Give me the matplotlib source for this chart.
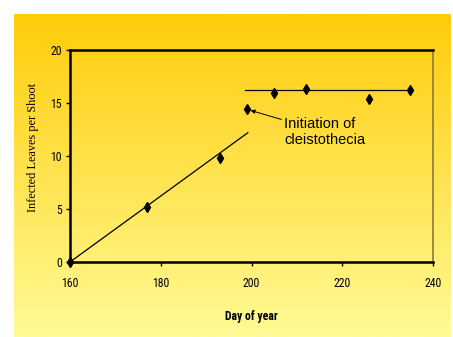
import matplotlib.pyplot as plt
import numpy as np

# data
day = [160, 177, 193, 199, 205, 212, 226, 235]
leaves = [0.0, 5.2, 9.8, 14.4, 15.9, 16.3, 15.4, 16.2]

# fitted lines
fit1_x = [160, 199.2]
fit1_y = [0.0, 12.2]
fit2_x = [198.5, 235]
fit2_y = [16.2, 16.2]

xticks = [160, 180, 200, 220, 240]
yticks = [0, 5, 10, 15, 20]

narrow = ['Liberation Sans Narrow', 'Roboto Condensed', 'DejaVu Sans']

fig = plt.figure(figsize=(4.53, 3.37), dpi=100)

# yellow gradient background
bg = fig.add_axes([14 / 453, 0, 436 / 453, 323 / 337])
grad = np.linspace(0, 1, 256).reshape(-1, 1)
top = np.array([255, 204, 10]) / 255
bot = np.array([255, 251, 150]) / 255
img = top + (bot - top) * grad[:, :, None]
bg.imshow(img, aspect='auto', extent=[0, 1, 0, 1])
bg.axis('off')

ax = fig.add_axes([70 / 453, 75 / 337, 363 / 453, 212 / 337])
ax.patch.set_alpha(0)

ax.plot(fit1_x, fit1_y, color='black', lw=0.9)
ax.plot(fit2_x, fit2_y, color='black', lw=0.9)
ax.plot(day, leaves, linestyle='none', marker='d', markersize=5.5,
        color='black', clip_on=False, zorder=5)

ax.annotate('Initiation of\ncleistothecia', xy=(199.8, 14.3), xytext=(207.2, 13.7),
            fontsize=10.5, family='Liberation Sans', va='top', ha='left',
            arrowprops=dict(arrowstyle='-|>', color='black', lw=0.7,
                            mutation_scale=6, shrinkA=0, shrinkB=0,
                            relpos=(-0.02, 0.9)))

ax.set_xlim(160, 240)
ax.set_ylim(0, 20)
ax.set_xticks(xticks)
ax.set_yticks(yticks)
ax.set_xticklabels([str(t) for t in xticks], family=narrow, fontstretch='condensed', fontsize=8.5)
ax.set_yticklabels([str(t) for t in yticks], family=narrow, fontstretch='condensed', fontsize=8.5)
ax.tick_params(direction='out', length=3, width=1, pad=8)
ax.tick_params(axis='y', pad=3)

for s in ['top', 'left', 'bottom']:
    ax.spines[s].set_linewidth(1.8)
    ax.spines[s].set_color('black')
ax.spines['right'].set_linewidth(1.2)
ax.spines['right'].set_color('#8a7a3a')

ax.set_xlabel('Day of year', family=narrow, fontstretch='condensed', fontweight='bold',
              fontsize=8.5, labelpad=14)
ax.set_ylabel('Infected Leaves per Shoot', family='Liberation Serif', fontsize=8.8)
ax.yaxis.set_label_coords(-0.085, 0.54)

fig.savefig('out.png', dpi=100)
